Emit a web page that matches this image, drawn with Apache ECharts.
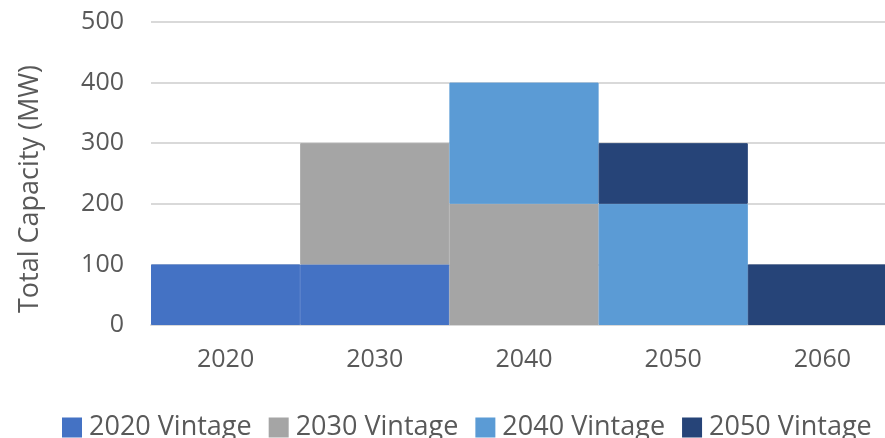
<!DOCTYPE html>
<html>
<head>
<meta charset="utf-8">
<script src="https://cdn.jsdelivr.net/npm/echarts@6/dist/echarts.min.js"></script>
<style>
  html, body { margin: 0; padding: 0; background: #ffffff; }
  #chart { width: 885px; height: 438px; }
</style>
</head>
<body>
<div id="chart"></div>
<script>
// Installation years on the horizontal axis
const years = ['2020', '2030', '2040', '2050', '2060'];

// Capacity (MW) still online in each year, by build vintage
const vintage2020 = [100, 100, '-', '-', '-'];
const vintage2030 = ['-', 200, 200, '-', '-'];
const vintage2040 = ['-', '-', 200, 200, '-'];
const vintage2050 = ['-', '-', '-', 100, 100];

const seriesNames = ['2020 Vintage', '2030 Vintage', '2040 Vintage', '2050 Vintage'];
const seriesValues = [vintage2020, vintage2030, vintage2040, vintage2050];
const seriesColors = ['#4472C4', '#A5A5A5', '#5B9BD5', '#264478'];

const FONT = '"Open Sans", "Noto Sans", sans-serif';
const TEXT = '#595959';

const chart = echarts.init(document.getElementById('chart'), null, { renderer: 'canvas' });

chart.setOption({
  animation: false,
  backgroundColor: '#ffffff',
  // plot area runs a little past the right edge of the canvas
  grid: { left: 151, width: 746, top: 22, height: 303, containLabel: false, outerBoundsMode: 'none' },
  legend: {
    left: 62,
    top: 414,
    padding: 0,
    itemWidth: 18,
    itemHeight: 18,
    itemGap: 17,
    icon: 'rect',
    data: seriesNames,
    textStyle: { fontFamily: FONT, fontSize: 27, color: TEXT, padding: [0, 0, 0, 3] }
  },
  xAxis: {
    type: 'category',
    data: years,
    axisTick: { show: false },
    axisLine: { show: true, lineStyle: { color: '#D9D9D9', width: 2 } },
    axisLabel: { fontFamily: FONT, fontSize: 25, color: TEXT, margin: 22 }
  },
  yAxis: {
    type: 'value',
    min: 0,
    max: 500,
    interval: 100,
    name: 'Total Capacity (MW)',
    nameLocation: 'middle',
    nameGap: 107,
    nameTextStyle: { fontFamily: FONT, fontSize: 27, color: TEXT, padding: [0, 31, 0, 0] },
    axisLine: { show: false },
    axisTick: { show: false },
    splitLine: { lineStyle: { color: '#D9D9D9', width: 2 } },
    axisLabel: { fontFamily: FONT, fontSize: 25, color: TEXT, margin: 27 }
  },
  series: seriesNames.map((name, i) => ({
    name: name,
    type: 'bar',
    stack: 'capacity',
    barCategoryGap: '0%',
    data: seriesValues[i],
    // same-colour outline closes the seam between neighbouring bars of one vintage
    itemStyle: { color: seriesColors[i], borderColor: seriesColors[i], borderWidth: 1 }
  }))
});
</script>
</body>
</html>
